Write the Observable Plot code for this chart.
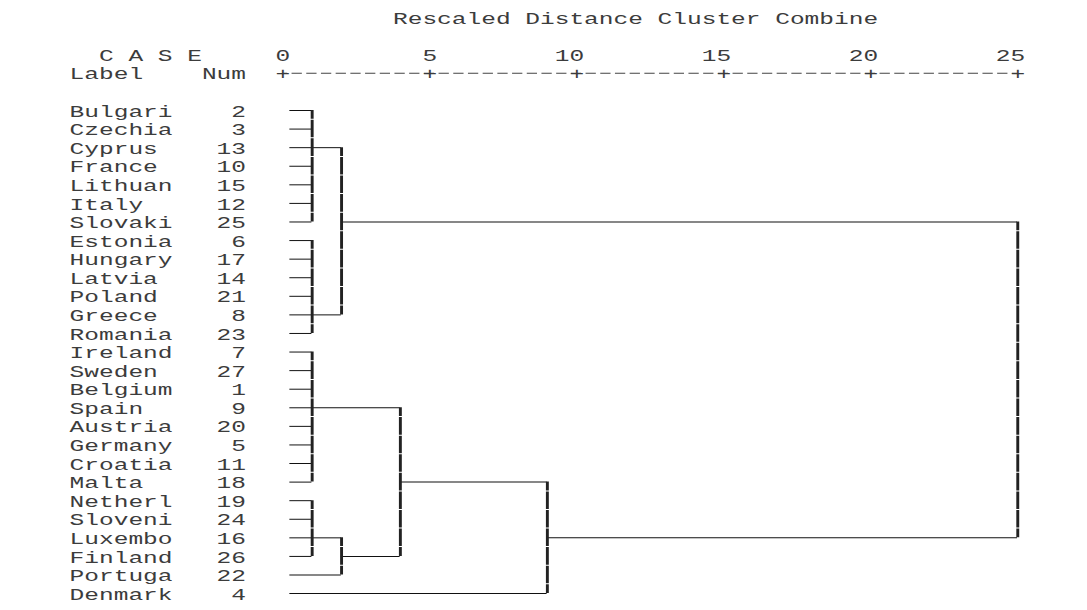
<!DOCTYPE html>
<html>
<head>
<meta charset="utf-8">
<script src="https://cdn.jsdelivr.net/npm/d3@7"></script>
<script src="https://cdn.jsdelivr.net/npm/@observablehq/plot@0.6"></script>
<style>
  html, body { margin: 0; padding: 0; background: #fff; overflow: hidden; }
  #chart svg { display: block; }
</style>
</head>
<body>
<div id="chart"></div>
<script>
// ---- data ----
const title = "Rescaled Distance Cluster Combine";
const caseHeader = "C A S E";
const labelHeader = "Label";
const numHeader = "Num";
const ticks = [0, 5, 10, 15, 20, 25];
const tickMark = "+";

const labels = ["Bulgari","Czechia","Cyprus","France","Lithuan","Italy","Slovaki",
  "Estonia","Hungary","Latvia","Poland","Greece","Romania",
  "Ireland","Sweden","Belgium","Spain","Austria","Germany","Croatia","Malta",
  "Netherl","Sloveni","Luxembo","Finland","Portuga","Denmark"];
const nums = [2,3,13,10,15,12,25,6,17,14,21,8,23,7,27,1,9,20,5,11,18,19,24,16,26,22,4];

// merges (rescaled distance 0..25); children are leaf rows or earlier merge names
const mergeName = ["A1","A2","A","B1","B2a","B2","B","C","root"];
const mergeDist = [1, 1, 2, 1, 1, 2, 4, 9, 25];
const mergeChildren = [
  [0,1,2,3,4,5,6],
  [7,8,9,10,11,12],
  ["A1","A2"],
  [13,14,15,16,17,18,19,20],
  [21,22,23,24],
  ["B2a",25],
  ["B1","B2"],
  ["B",26],
  ["A","C"]
];
const mergeExitRow = [2, 11, 6, 16, 23, 24, 20, 23, 14];
const leafStart = 0.25;

// ---- layout of the text grid (distance units / row units) ----
const W = 1087, H = 610;
const pxPerUnit = 29.4, x0px = 282;      // position of distance 0
const rowPx = 18.58, row0px = 110;       // first leaf row
const fontSize = 16;
const cell = 0.6 * fontSize;             // monospace cell (internal px) = 0.5 unit
const stretch = (0.5 * pxPerUnit) / cell;
const Wi = W / stretch;

// ---- build tree segments ----
const info = {};
const horizontals = [], verticals = [];
mergeName.forEach((name, i) => {
  const d = mergeDist[i];
  const rows = [];
  mergeChildren[i].forEach(c => {
    const isLeaf = typeof c === "number";
    const r = isLeaf ? c : info[c].row;
    const cd = isLeaf ? leafStart : info[c].d;
    rows.push(r);
    horizontals.push({x1: cd, x2: d, y: r});
  });
  verticals.push({x: d, y1: d3.min(rows), y2: d3.max(rows)});
  info[name] = {row: mergeExitRow[i], d};
});

const leaves = labels.map((label, i) => ({label, num: nums[i], row: i}));
const axisRule = [{x1: d3.min(ticks), x2: d3.max(ticks)}];

const txt = {fill: "#3c3c3c", fontSize, dy: 1};

const svg = Plot.plot({
  width: Wi,
  height: H,
  margin: 0,
  style: {fontFamily: "'Liberation Mono', 'Courier New', monospace", background: "#fff"},
  x: {type: "linear", domain: [-x0px / pxPerUnit, (W - x0px) / pxPerUnit], range: [0, Wi], axis: null},
  y: {type: "linear", domain: [-row0px / rowPx, (H - row0px) / rowPx], range: [0, H], axis: null},
  marks: [
    // dashed scale line made of "-" cells
    Plot.ruleY(axisRule, {y: () => -2, x1: "x1", x2: "x2", stroke: "#444", strokeWidth: 1,
      strokeDasharray: `${cell * 0.7},${cell * 0.3}`, strokeDashoffset: cell * 0.35}),
    Plot.text(ticks, {x: d => d + 0.25, y: () => -2, text: () => tickMark, textAnchor: "end", ...txt}),
    Plot.ruleY(horizontals, {y: "y", x1: "x1", x2: "x2", stroke: "#111", strokeWidth: 1}),
    Plot.ruleX(verticals, {x: "x", y1: "y1", y2: "y2", stroke: "#222", strokeWidth: 1.9,
      strokeDasharray: `${rowPx - 1},1`, strokeDashoffset: rowPx / 2 - 0.5 + 0.01}),
    Plot.text(leaves, {x: () => -7.25, y: "row", text: "label", textAnchor: "start", ...txt}),
    Plot.text(leaves, {x: () => -1.25, y: "row", text: d => String(d.num), textAnchor: "end", ...txt}),
    Plot.text([title], {x: () => 3.75, y: () => -5, text: d => d, textAnchor: "start", ...txt}),
    Plot.text([caseHeader], {x: () => -6.25, y: () => -3, text: d => d, textAnchor: "start", ...txt}),
    Plot.text(ticks, {x: d => d + 0.25, y: () => -3, text: d => String(d), textAnchor: "end", ...txt}),
    Plot.text([labelHeader], {x: () => -7.25, y: () => -2, text: d => d, textAnchor: "start", ...txt}),
    Plot.text([numHeader], {x: () => -1.25, y: () => -2, text: d => d, textAnchor: "end", ...txt})
  ]
});

svg.setAttribute("width", W);
svg.setAttribute("height", H);
svg.setAttribute("preserveAspectRatio", "none");
svg.style.width = W + "px";
svg.style.height = H + "px";
svg.style.maxWidth = "none";
document.getElementById("chart").appendChild(svg);
</script>
</body>
</html>
